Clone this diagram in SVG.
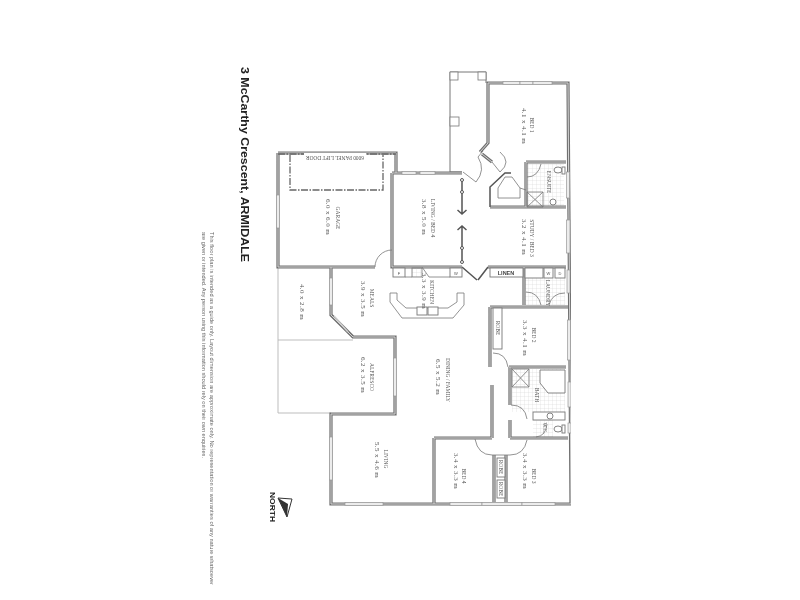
<svg xmlns="http://www.w3.org/2000/svg" xmlns:xlink="http://www.w3.org/1999/xlink" width="800" height="600" viewBox="0 0 800 600">
<style>
.t{font-family:"Liberation Serif",serif;fill:#555;text-anchor:middle}
.l{font-size:5.5px}
.s{font-size:7px;letter-spacing:.4px}
.a{font-family:"Liberation Sans",sans-serif;fill:#666;font-size:5.2px}
.wo{fill:none;stroke:#707070;stroke-width:3.2;stroke-linejoin:miter}
.wi{fill:none;stroke:#d4d4d4;stroke-width:1}
.th{fill:none;stroke:#777;stroke-width:.8}
.tk{fill:none;stroke:#555;stroke-width:1.5}
.win{fill:#ececec;stroke:#999;stroke-width:.7}
.box{fill:#fff;stroke:#777;stroke-width:.9}
.m{font-family:"Liberation Sans",sans-serif;font-size:4px;fill:#555;text-anchor:middle}
</style>
<defs>
<pattern id="tile" width="4" height="4" patternUnits="userSpaceOnUse"><path d="M4 0H0V4" fill="none" stroke="#cfcfcf" stroke-width=".5"/></pattern>
<path id="walls" d="M278 153H396V173M392 173H462M278 153V267H375M392 173V267H462M331 267V315L353 337H395V414H331V504H571L568 83H488V143L480 152M482 154L492 162M490 207H566M526 162V207M526 162H566M488 267H566M524 267V305M490 307H568M490 307V367M509 367H566M510 367V405M510 420V438M492 385V438M434 438H492M434 438V504M510 438H568M494 455V502M506 455V502"/>
<filter id="soft" x="0" y="0" width="100%" height="100%"><feGaussianBlur stdDeviation="0.35"/></filter>
</defs>
<rect width="800" height="600" fill="#fff"/>
<g filter="url(#soft)">

<g id="title">
<text transform="translate(241,67) rotate(90)" font-family="Liberation Sans, sans-serif" font-weight="700" font-size="11.5" fill="#222" textLength="195" lengthAdjust="spacingAndGlyphs">3 McCarthy Crescent, ARMIDALE</text>
<text class="a" transform="translate(210,232) rotate(90)" textLength="353" lengthAdjust="spacingAndGlyphs">This floor plan is intended as a guide only. Layout dimension are approximate only. No representation or warranties of any nature whatsoever</text>
<text class="a" transform="translate(202,232) rotate(90)" textLength="226" lengthAdjust="spacingAndGlyphs">are given or intended. Any person using this information should rely on their own enquiries.</text>
</g>

<g id="tiles">
<rect x="527" y="164" width="37" height="42" fill="url(#tile)"/>
<rect x="525" y="278" width="40" height="27" fill="url(#tile)"/>
<rect x="512" y="369" width="53" height="43" fill="url(#tile)"/>
<rect x="533" y="420" width="20" height="17" fill="url(#tile)"/>
</g>

<g id="alfresco">
<path d="M331 267H278V413H331M278 340H353" fill="none" stroke="#b5b5b5" stroke-width=".9"/>
</g>

<g id="porch" class="th">
<path d="M462 172H450V72H486V83" fill="none" stroke="#777" stroke-width="1"/>
<rect x="450" y="72" width="8" height="8" fill="#fff"/>
<rect x="478" y="72" width="8" height="8" fill="#fff"/>
<rect x="450" y="117" width="9" height="9" fill="#fff"/>
</g>

<g id="walls-group">
<use xlink:href="#walls" href="#walls" class="wo"/>
<use xlink:href="#walls" href="#walls" class="wi"/>
</g>

<g id="windows">
<rect class="win" x="276.500" y="195" width="3" height="33"/>
<rect class="win" x="503" y="81.500" width="17" height="3"/>
<rect class="win" x="520" y="81.500" width="13" height="3"/>
<rect class="win" x="533" y="81.500" width="19" height="3"/>
<rect class="win" x="402" y="171.500" width="14" height="3"/>
<rect class="win" x="420" y="171.500" width="15" height="3"/>
<rect class="win" x="566.500" y="172" width="3" height="26"/>
<rect class="win" x="566.500" y="220" width="3.500" height="33"/>
<rect class="win" x="567" y="270" width="3" height="23"/>
<rect class="win" x="567.500" y="320" width="3" height="40"/>
<rect class="win" x="568" y="382" width="3" height="25"/>
<rect class="win" x="568" y="423" width="3" height="10"/>
<rect class="win" x="329.500" y="278" width="3" height="27"/>
<path d="M334 316L348 332" stroke="#ccc" stroke-width="1.500" fill="none"/>
<rect class="win" x="393.500" y="358" width="3" height="38"/>
<rect class="win" x="329.500" y="437" width="3" height="43"/>
<rect class="win" x="345" y="502.500" width="38" height="3"/>
<rect class="win" x="450" y="502.500" width="32" height="3"/>
<rect class="win" x="482" y="502.500" width="40" height="3"/>
<rect class="win" x="522" y="502.500" width="33" height="3"/>
</g>

<g id="garage-door">
<path d="M278 154H396M290 155V190H383V155" fill="none" stroke="#666" stroke-width="1.300" stroke-dasharray="7 1.500 1.500 1.500"/>
<rect x="304" y="153" width="62" height="9" fill="#fff"/>
<text class="t" transform="translate(335,155.500) rotate(180)" style="font-size:5.500px" textLength="58" lengthAdjust="spacingAndGlyphs">6000 PANEL LIFT DOOR</text>
</g>

<g id="doors">
<path class="th" d="M375 267A17 17 0 0 1 392 250"/>
<path class="th" d="M463 172L476 182Q486 170 478 157L483 151"/>
<path class="th" d="M492 162L500 172Q512 162 500 152"/>
<path class="tk" d="M462 180V213M457.500 210L462 214L466.500 210M462 227V262M457.500 230L462 226L466.500 230"/>
<circle cx="462" cy="180" r="1.500" fill="#fff" stroke="#555"/>
<circle cx="462" cy="192" r="1.500" fill="#fff" stroke="#555"/>
<circle cx="462" cy="248" r="1.500" fill="#fff" stroke="#555"/>
<circle cx="462" cy="262" r="1.500" fill="#fff" stroke="#555"/>
<path class="tk" d="M462 267L477 280M478 280L488 267"/>
<path class="th" d="M527 177Q538 177 541 164"/>
<path class="th" d="M526 292Q538 292 541 305M565 293Q552 293 549 305"/>
<path class="th" d="M493 353Q506 353 508 367"/>
<path class="th" d="M511 405Q525 405 527 419"/>
<path class="th" d="M475 439Q478 455 492 455M527 440Q524 455 510 455"/>
<path class="th" d="M536 437Q546 436 547 424"/>
</g>

<g id="ensuite">
<path class="tk" d="M490 207V187L505 173H511"/>
<path class="th" d="M498 188L505 177H512L520 188V198H498ZM520 188L526 190"/>
<path class="th" d="M527 192H543V207H527ZM527 192L543 207M543 192L527 207"/>
<ellipse class="box" cx="558" cy="170" rx="4" ry="3"/>
<rect class="box" x="562" y="167" width="3" height="7"/>
<circle class="box" cx="553" cy="202" r="3"/>
</g>

<g id="kitchen">
<rect class="box" x="393" y="268" width="12" height="9"/>
<text class="m" x="399" y="274.500">F</text>
<rect x="412" y="268" width="10" height="9" fill="url(#tile)" stroke="#777" stroke-width=".8"/>
<rect class="box" x="450" y="268" width="12" height="9"/>
<text class="m" x="456" y="274.500">W</text>
<path class="th" d="M422 267L429 277H450M405 277H412"/>
<path class="th" d="M390 293V302L402 318H453L464 305V293H457V302L448 308H406L397 300V293Z" fill="#fff"/>
<rect class="box" x="417" y="307" width="10" height="8"/>
<rect class="box" x="428" y="307" width="10" height="8"/>
</g>

<g id="cupboards">
<rect class="box" x="490" y="268" width="33" height="9"/>
<text x="506" y="275" font-family="Liberation Sans, sans-serif" font-size="5.500" font-weight="700" fill="#444" text-anchor="middle">LINEN</text>
<rect class="box" x="525" y="268" width="18" height="10"/>
<rect class="box" x="544" y="268" width="9" height="10"/>
<text class="m" x="548.500" y="274.500">W</text>
<rect class="box" x="555" y="268" width="10" height="10"/>
<text class="m" x="560" y="274.500">D</text>
</g>

<g id="bath">
<rect class="box" x="493" y="308" width="9" height="41"/>
<path class="th" d="M512 369H529V387H512ZM512 369L529 387M529 369L512 387"/>
<path class="box" d="M540 370H565V393H548L540 383Z"/>
<rect class="box" x="533" y="412" width="32" height="8"/>
<circle class="box" cx="550" cy="416" r="3"/>
<ellipse class="box" cx="558" cy="429" rx="4" ry="3"/>
<rect class="box" x="562" y="425" width="3" height="8"/>
</g>

<g id="robes">
<path class="th" d="M492 455H510"/>
<rect class="box" x="497" y="458" width="8" height="19"/>
<rect class="box" x="497" y="480" width="8" height="18"/>
</g>

<g id="labels">
<g class="t">
<text class="l" transform="translate(336,218) rotate(90)">GARAGE</text>
<text class="s" transform="translate(326,217) rotate(90)">6.0 x 6.0 m</text>
<text class="l" transform="translate(431,218) rotate(90)">LIVING / BED 4</text>
<text class="s" transform="translate(422,217) rotate(90)">3.8 x 5.0 m</text>
<text class="l" transform="translate(530,125) rotate(90)">BED 1</text>
<text class="s" transform="translate(522,126) rotate(90)">4.1 x 4.1 m</text>
<text class="l" transform="translate(530,238) rotate(90)">STUDY / BED 3</text>
<text class="s" transform="translate(522,237) rotate(90)">3.2 x 4.1 m</text>
<text class="l" transform="translate(430,292) rotate(90)">KITCHEN</text>
<text class="s" transform="translate(422,291) rotate(90)">3.3 x 3.9 m</text>
<text class="l" transform="translate(370,298) rotate(90)">MEALS</text>
<text class="s" transform="translate(361,299) rotate(90)">3.9 x 3.5 m</text>
<text class="s" transform="translate(300,302) rotate(90)">4.0 x 2.8 m</text>
<text class="l" transform="translate(370,377) rotate(90)">ALFRESCO</text>
<text class="s" transform="translate(361,375) rotate(90)">6.2 x 3.5 m</text>
<text class="l" transform="translate(446,380) rotate(90)">DINING / FAMILY</text>
<text class="s" transform="translate(436,377) rotate(90)">6.5 x 5.2 m</text>
<text class="l" transform="translate(532,335) rotate(90)">BED 2</text>
<text class="s" transform="translate(523,338) rotate(90)">3.3 x 4.1 m</text>
<text class="l" transform="translate(384,459) rotate(90)">LIVING</text>
<text class="s" transform="translate(375,460) rotate(90)">5.5 x 4.6 m</text>
<text class="l" transform="translate(462,476) rotate(90)">BED 4</text>
<text class="s" transform="translate(454,471) rotate(90)">3.4 x 3.3 m</text>
<text class="l" transform="translate(532,476) rotate(90)">BED 3</text>
<text class="s" transform="translate(523,471) rotate(90)">3.4 x 3.3 m</text>
<text class="l" transform="translate(547,182) rotate(90)">ENSUITE</text>
<text class="l" transform="translate(546,293) rotate(90)">LAUNDRY</text>
<text class="l" transform="translate(535,395) rotate(90)">BATH</text>
<text class="l" transform="translate(543,428) rotate(90)">W.C.</text>
<text class="l" transform="translate(496,328) rotate(90)">ROBE</text>
<text class="l" transform="translate(499,467) rotate(90)">ROBE</text>
<text class="l" transform="translate(499,489) rotate(90)">ROBE</text>
</g>
</g>

<g id="north">
<path d="M278 498L292 499L287 517Z" fill="#fff" stroke="#333" stroke-width="1"/>
<path d="M278 498L288 504L287 517Z" fill="#333"/>
<text transform="translate(270,492) rotate(90)" font-family="Liberation Sans, sans-serif" font-weight="700" font-size="7.500" fill="#222" textLength="30" lengthAdjust="spacingAndGlyphs">NORTH</text>
</g>
</g>
</svg>
